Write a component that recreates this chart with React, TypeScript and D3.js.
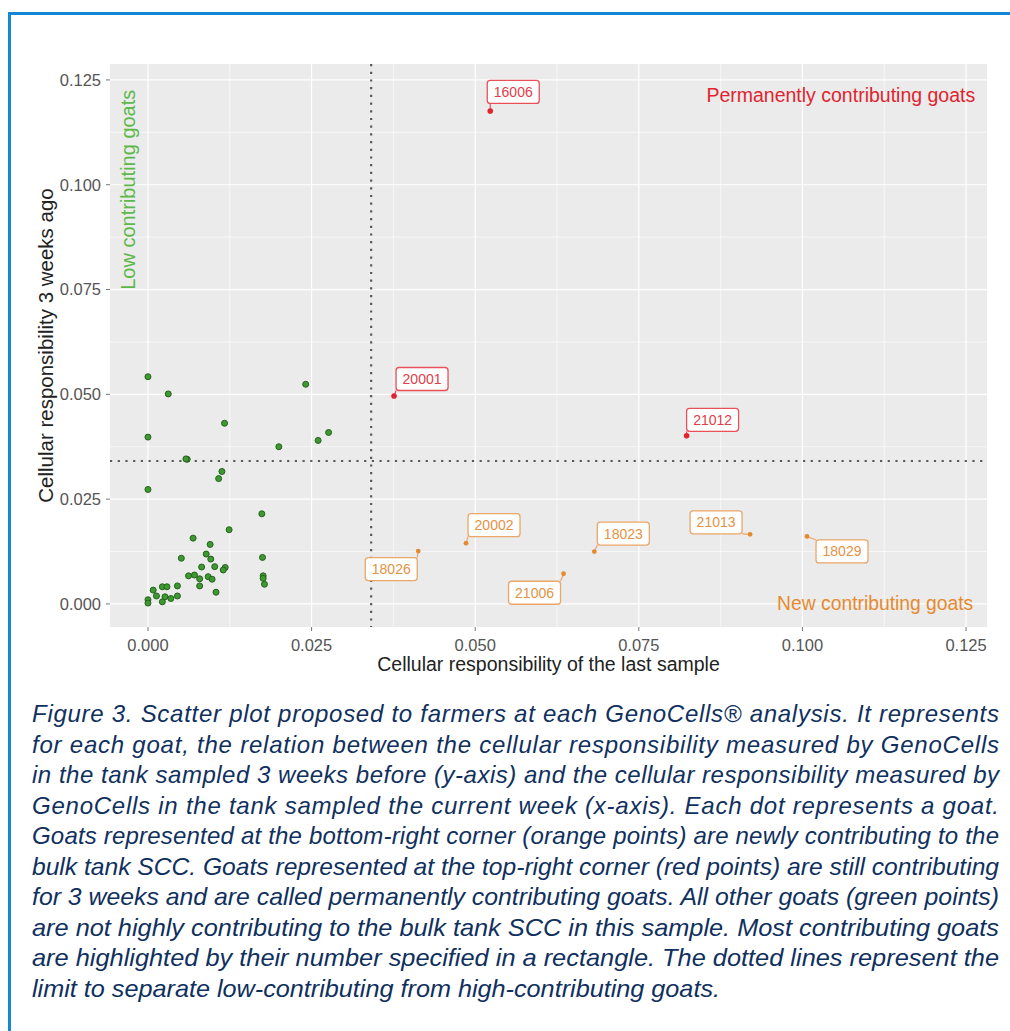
import React from "react";
import * as d3 from "d3";

// goats below / left of the limit (green)
const lowX = [0, 0.0031, 0.0241, 0.0117, 0, 0.02, 0.026, 0.0276, 0.006, 0.0113, 0.0108, 0, 0.0174, 0.0124, 0.0069, 0.0095, 0.0051, 0.0089, 0.0096, 0.0175, 0.0082, 0.0102, 0.0118, 0.0115, 0.0062, 0.0071, 0.0079, 0.0092, 0.0098, 0.0176, 0.0176, 0.0079, 0.0104, 0.0178, 0.0008, 0.0013, 0.0022, 0.0029, 0.0045, 0.0026, 0.0035, 0.0045, 0.0022, 0, 0, 0.0058];
const lowY = [0.0542, 0.0501, 0.0524, 0.0431, 0.0398, 0.0375, 0.039, 0.0409, 0.0345, 0.0316, 0.0299, 0.0273, 0.0215, 0.0177, 0.0157, 0.0142, 0.0109, 0.0119, 0.0107, 0.0111, 0.0088, 0.0089, 0.0087, 0.0081, 0.0067, 0.0069, 0.006, 0.0065, 0.0059, 0.0067, 0.0061, 0.0043, 0.0028, 0.0047, 0.0033, 0.0019, 0.0041, 0.0041, 0.0043, 0.0017, 0.0013, 0.0019, 0.0005, 0.001, 0.0002, 0.0346];

// permanently contributing (red)
const permIds = ["16006", "20001", "21012"];
const permX = [0.0523, 0.0376, 0.0823];
const permY = [0.1176, 0.0496, 0.0401];

// new contributing (orange)
const newIds = ["18026", "20002", "21006", "18023", "21013", "18029"];
const newX = [0.0413, 0.0486, 0.0635, 0.0682, 0.092, 0.1007];
const newY = [0.0126, 0.0145, 0.0072, 0.0125, 0.0166, 0.0161];

const limit = 0.0341;
const ticks = [0, 0.025, 0.05, 0.075, 0.1, 0.125];

// where ggrepel put the boxes (px offset of box centre from point)
const nudge: Record<string, [number, number]> = {
  "16006": [23, -19],
  "20001": [28, -17],
  "21012": [26, -16],
  "18026": [-27, 18],
  "20002": [28, -18],
  "21006": [-29, 19],
  "18023": [29, -18],
  "21013": [-34, -12],
  "18029": [35, 15],
};

const captionLines = [
  "Figure 3. Scatter plot proposed to farmers at each GenoCells® analysis. It represents",
  "for each goat, the relation between the cellular responsibility measured by GenoCells",
  "in the tank sampled 3 weeks before (y-axis) and the cellular responsibility measured by",
  "GenoCells in the tank sampled the current week (x-axis). Each dot represents a goat.",
  "Goats represented at the bottom-right corner (orange points) are newly contributing to the",
  "bulk tank SCC. Goats represented at the top-right corner (red points) are still contributing",
  "for 3 weeks and are called permanently contributing goats. All other goats (green points)",
  "are not highly contributing to the bulk tank SCC in this sample. Most contributing goats",
  "are highlighted by their number specified in a rectangle. The dotted lines represent the",
  "limit to separate low-contributing from high-contributing goats.",
];

const W = 1010;
const H = 1031;
const panel = { left: 110, right: 987, top: 64, bottom: 627 };
const font = "'Liberation Sans', Arial, sans-serif";

const RED = "#e0242f";
const ORANGE = "#e58a2e";

export default function App() {
  const x = d3.scaleLinear().domain([-0.0058, 0.1282]).range([panel.left, panel.right]);
  const y = d3.scaleLinear().domain([-0.0055, 0.1288]).range([panel.bottom, panel.top]);

  const minor = d3.range(0.0125, 0.13, 0.025);

  const labelBox = (id: string, px: number, py: number, col: string, textCol: string) => {
    const bw = 52, bh = 23;
    const [dx, dy] = nudge[id];
    const cx = px + dx, cy = py + dy;
    const x0 = cx - bw / 2, y0 = cy - bh / 2;
    // segment from point to the nearest point on the box
    const ex = Math.max(x0, Math.min(px, x0 + bw));
    const ey = Math.max(y0, Math.min(py, y0 + bh));
    return (
      <g key={"l" + id}>
        <line x1={px} y1={py} x2={ex} y2={ey} stroke={col} strokeWidth={1.2} />
        <rect x={x0} y={y0} width={bw} height={bh} rx={3} fill="#fff" fillOpacity={0.92} stroke={col} strokeWidth={1.3} />
        <text x={cx} y={cy} dy="0.36em" textAnchor="middle" fontSize={14} fill={textCol} fontFamily={font}>{id}</text>
      </g>
    );
  };

  return (
    <svg width={W} height={H} style={{ position: "absolute", left: 0, top: 0, background: "#fff" }}>
      {/* frame */}
      <line x1={8} x2={W} y1={13.5} y2={13.5} stroke="#1386d4" strokeWidth={3} />
      <line x1={9.5} x2={9.5} y1={12} y2={H} stroke="#1386d4" strokeWidth={3} />

      {/* panel */}
      <rect x={panel.left} y={panel.top} width={panel.right - panel.left} height={panel.bottom - panel.top} fill="#ebebeb" />
      {minor.map((v) => (
        <g key={"m" + v}>
          <line x1={x(v)} x2={x(v)} y1={panel.top} y2={panel.bottom} stroke="#fff" strokeWidth={0.6} />
          <line x1={panel.left} x2={panel.right} y1={y(v)} y2={y(v)} stroke="#fff" strokeWidth={0.6} />
        </g>
      ))}
      {ticks.map((v) => (
        <g key={"t" + v}>
          <line x1={x(v)} x2={x(v)} y1={panel.top} y2={panel.bottom} stroke="#fff" strokeWidth={1.2} />
          <line x1={panel.left} x2={panel.right} y1={y(v)} y2={y(v)} stroke="#fff" strokeWidth={1.2} />
        </g>
      ))}

      {/* limits */}
      <line x1={x(limit)} x2={x(limit)} y1={panel.top} y2={panel.bottom} stroke="#5a5a5a" strokeWidth={2.2} strokeDasharray="2.2 5.5" />
      <line x1={panel.left} x2={panel.right} y1={y(limit)} y2={y(limit)} stroke="#5a5a5a" strokeWidth={2.2} strokeDasharray="2.2 5.5" />

      {/* axes */}
      {ticks.map((v) => (
        <g key={"ax" + v} fontFamily={font} fontSize={16.5} fill="#555">
          <line x1={panel.left - 4} x2={panel.left} y1={y(v)} y2={y(v)} stroke="#777" strokeWidth={1} />
          <text x={panel.left - 9} y={y(v)} dy="0.36em" textAnchor="end">{d3.format(".3f")(v)}</text>
          <line x1={x(v)} x2={x(v)} y1={panel.bottom} y2={panel.bottom + 4} stroke="#777" strokeWidth={1} />
          <text x={x(v)} y={panel.bottom + 18} dy="0.36em" textAnchor="middle">{d3.format(".3f")(v)}</text>
        </g>
      ))}
      <text x={(panel.left + panel.right) / 2} y={664} dy="0.36em" textAnchor="middle" fontSize={19.5} fontFamily={font} fill="#222">
        Cellular responsibility of the last sample
      </text>
      <text transform={`translate(46,${(panel.top + panel.bottom) / 2}) rotate(-90)`} dy="0.36em" textAnchor="middle" fontSize={20.5} fontFamily={font} fill="#222">
        Cellular responsibility 3 weeks ago
      </text>

      {/* group notes */}
      <text x={x(0.1264)} y={y(0.1214)} dy="0.36em" textAnchor="end" fontSize={19.5} fontFamily={font} fill={RED}>
        Permanently contributing goats
      </text>
      <text x={x(0.1261)} y={y(0.0002)} dy="0.36em" textAnchor="end" fontSize={19.3} fontFamily={font} fill={ORANGE}>
        New contributing goats
      </text>
      <text transform={`translate(${x(-0.0031)},${y(0.0988)}) rotate(-90)`} dy="0.36em" textAnchor="middle" fontSize={20} fontFamily={font} fill="#5db84a">
        Low contributing goats
      </text>

      {/* points */}
      {lowX.map((v, i) => (
        <circle key={"g" + i} cx={x(v)} cy={y(lowY[i])} r={3} fill="#3c9a30" stroke="#27601f" strokeWidth={1} />
      ))}
      {permIds.map((id, i) => labelBox(id, x(permX[i]), y(permY[i]), "#e8505a", "#e0404a"))}
      {newIds.map((id, i) => labelBox(id, x(newX[i]), y(newY[i]), "#eba66a", "#e39345"))}
      {permX.map((v, i) => (
        <circle key={"r" + i} cx={x(v)} cy={y(permY[i])} r={2.8} fill={RED} />
      ))}
      {newX.map((v, i) => (
        <circle key={"o" + i} cx={x(v)} cy={y(newY[i])} r={2.4} fill={ORANGE} />
      ))}

      {/* caption */}
      {captionLines.map((t, i) => {
        const last = i === captionLines.length - 1;
        return (
          <text
            key={"c" + i}
            x={32}
            y={722 + i * 30.5}
            fontSize={24}
            fontStyle="italic"
            fontFamily={font}
            fill="#10305e"
            textLength={last ? 688 : 967}
            lengthAdjust={i >= 5 ? "spacingAndGlyphs" : "spacing"}
          >
            {t}
          </text>
        );
      })}
    </svg>
  );
}
